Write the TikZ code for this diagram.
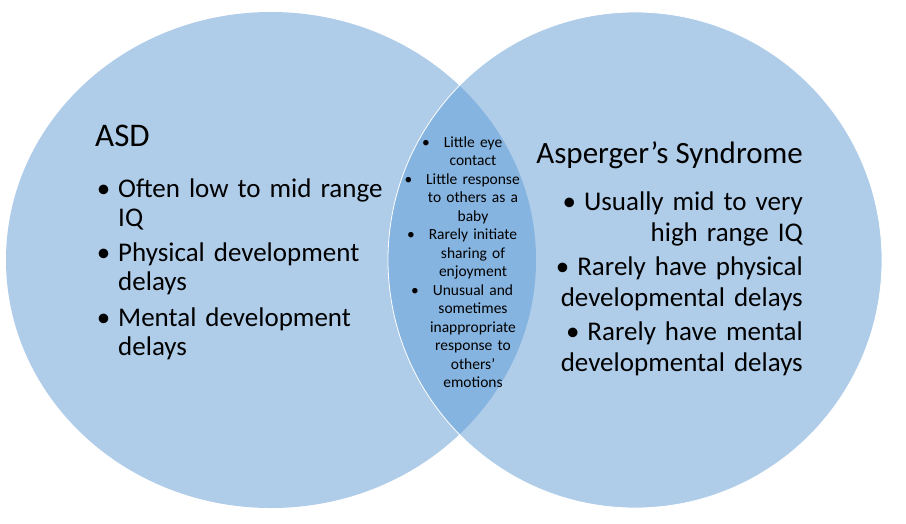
\documentclass[tikz,border=0pt]{standalone}
\usepackage{fontspec}
\setmainfont{Carlito}

\definecolor{setfill}{RGB}{175,204,233}
\definecolor{lensfill}{RGB}{134,180,224}

\tikzset{
  settitle/.style={inner sep=0pt},
  setlist/.style={inner sep=0pt, text width=300pt},
  lenslist/.style={inner sep=0pt, align=center, text width=120pt,
    font=\fontsize{15.5}{18.5}\selectfont},
}
\newcommand{\lbul}[1]{\leavevmode\llap{\textbullet\hspace{#1}}}

\begin{document}
\begin{tikzpicture}[x=1pt,y=-1pt]
  \useasboundingbox (0,0) rectangle (906,523);

  % the two sets
  \fill[setfill] (271,260) ellipse [x radius=265, y radius=248];
  \fill[setfill] (635,260) ellipse [x radius=247, y radius=248];
  \begin{scope}
    \clip (271,260) ellipse [x radius=265, y radius=248];
    \fill[lensfill] (635,260) ellipse [x radius=247, y radius=248];
  \end{scope}
  \draw[white, line width=0.8pt] (635,260) ellipse [x radius=247, y radius=248];

  % left set
  \node[settitle, anchor=base west, font=\fontsize{33}{36}\selectfont] (asd) at (95,146) {ASD};
  \node[setlist, anchor=base west, align=left, font=\fontsize{27}{29}\selectfont] (asdlist) at (118,197)
    {\lbul{8pt}Often low to mid range\\ IQ\\[6.5pt]
     \lbul{8pt}Physical development\\ delays\\[6.5pt]
     \lbul{8pt}Mental development\\ delays};

  % right set
  \node[settitle, anchor=base east, font=\fontsize{31}{34}\selectfont] (asp) at (803,163) {Asperger’s Syndrome};
  \node[setlist, anchor=base east, align=right, font=\fontsize{27}{31}\selectfont] (asplist) at (803,210)
    {\textbullet\hspace{8pt}Usually mid to very\\ high range IQ\\[3pt]
     \textbullet\hspace{8pt}Rarely have physical\\ developmental delays\\[3pt]
     \textbullet\hspace{8pt}Rarely have mental\\ developmental delays};

  % overlap
  \node[lenslist, anchor=base] (shared) at (473,147)
    {\lbul{14pt}Little eye\\ contact\\
     \lbul{14pt}Little response\\ to others as a\\ baby\\
     \lbul{14pt}Rarely initiate\\ sharing of\\ enjoyment\\
     \lbul{14pt}Unusual and\\ sometimes\\ inappropriate\\ response to\\ others’\\ emotions};
\end{tikzpicture}
\end{document}
